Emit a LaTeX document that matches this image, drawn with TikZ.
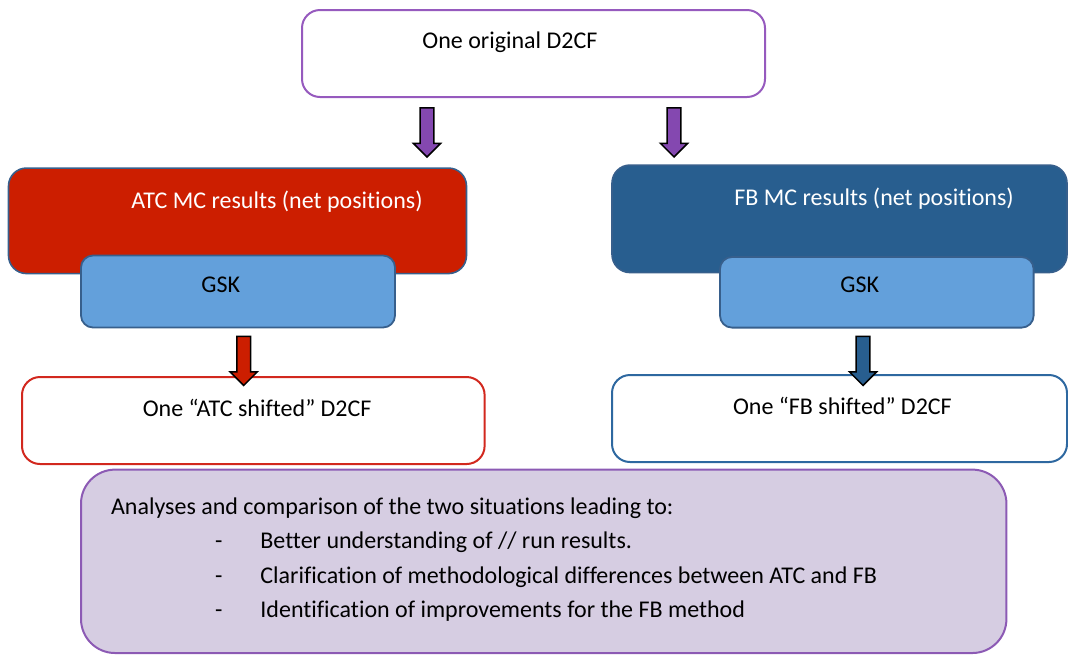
\documentclass[tikz,border=0pt]{standalone}
\usepackage{fontspec}
\setmainfont[Ligatures=NoCommon]{Carlito}
\usepackage{xcolor}
\usetikzlibrary{shapes.arrows}
\definecolor{origPurple}{RGB}{150,90,190}
\definecolor{arrowPurple}{RGB}{132,72,176}
\definecolor{atcRed}{RGB}{204,30,0}
\definecolor{shiftRed}{RGB}{210,40,30}
\definecolor{fbBlue}{RGB}{40,94,143}
\definecolor{shiftBlue}{RGB}{46,104,160}
\definecolor{gskBlue}{RGB}{99,160,219}
\definecolor{edgeBlue}{RGB}{55,95,140}
\definecolor{anaLilac}{RGB}{214,205,226}
\definecolor{anaPurple}{RGB}{140,90,180}
\tikzset{
  whitebox/.style={draw, fill=white, line width=1pt, rounded corners=9pt, inner sep=0pt},
  mcbox/.style={draw=edgeBlue, line width=0.8pt, rounded corners=9pt, inner sep=0pt},
  gskbox/.style={draw=edgeBlue, fill=gskBlue, line width=0.9pt, rounded corners=6pt, inner sep=0pt},
  anabox/.style={draw=anaPurple, fill=anaLilac, line width=1pt, rounded corners=17pt, inner sep=0pt},
  downarrow/.style={single arrow, draw=black, line width=0.75pt, rotate=-90, anchor=tip,
    minimum height=24.5pt, minimum width=0pt, inner xsep=0pt, inner ysep=3.1pt,
    single arrow head extend=3.3pt, single arrow head indent=0pt},
  txt/.style={anchor=base west, inner sep=0pt, font=\fontsize{12}{14}\selectfont}
}
\begin{document}
\begin{tikzpicture}[x=0.5pt,y=-0.5pt]
  \useasboundingbox (0,0) rectangle (1068,655);
  % top box
  \node[whitebox, draw=origPurple, minimum width=231.5pt, minimum height=43.5pt] (orig) at (533.5,53.5) {};
  \node[txt] (origT) at (422,48) {One original D2CF};

  % market coupling results
  \node[mcbox, fill=atcRed, minimum width=229pt, minimum height=52.75pt] (atc) at (237.5,220.8) {};
  \node[txt, text=white] (atcT) at (131,208.5) {ATC MC results (net positions)};
  \node[mcbox, fill=fbBlue, minimum width=227.5pt, minimum height=53.75pt] (fb) at (839.5,218.8) {};
  \node[txt, text=white] (fbT) at (734,205) {FB MC results (net positions)};

  % GSK
  \node[gskbox, minimum width=157pt, minimum height=36pt] (gskL) at (238,291.5) {};
  \node[txt] (gskLT) at (201,292) {GSK};
  \node[gskbox, minimum width=156.8pt, minimum height=35.3pt] (gskR) at (876.8,292.3) {};
  \node[txt] (gskRT) at (840,292) {GSK};

  % shifted D2CF
  \node[whitebox, draw=shiftRed, minimum width=231.3pt, minimum height=43.5pt] (atcS) at (253.3,420.5) {};
  \node[txt] (atcST) at (142.4,416) {One “ATC shifted” D2CF};
  \node[whitebox, draw=shiftBlue, minimum width=227.5pt, minimum height=43.5pt] (fbS) at (839.5,418.5) {};
  \node[txt] (fbST) at (732.6,414) {One “FB shifted” D2CF};

  % block arrows
  \node[downarrow, fill=arrowPurple] (arrL) at (427,158) {};
  \node[downarrow, fill=arrowPurple] (arrR) at (674,158) {};
  \node[downarrow, fill=atcRed] (arrA) at (243.7,386.5) {};
  \node[downarrow, fill=fbBlue] (arrF) at (863,386.5) {};

  % analyses
  \node[anabox, minimum width=462.7pt, minimum height=91.7pt] (ana) at (543.7,561.3) {};
  \node[txt] (anaT) at (110.7,514.6) {Analyses and comparison of the two situations leading to:};
  \node[txt] (d1) at (214.6,548.7) {-};
  \node[txt] (b1) at (260,548.7) {Better understanding of // run results.};
  \node[txt] (d2) at (214.6,583.2) {-};
  \node[txt] (b2) at (260,583.2) {Clarification of methodological differences between ATC and FB};
  \node[txt] (d3) at (214.6,617.5) {-};
  \node[txt] (b3) at (260,617.5) {Identification of improvements for the FB method};
\end{tikzpicture}
\end{document}
